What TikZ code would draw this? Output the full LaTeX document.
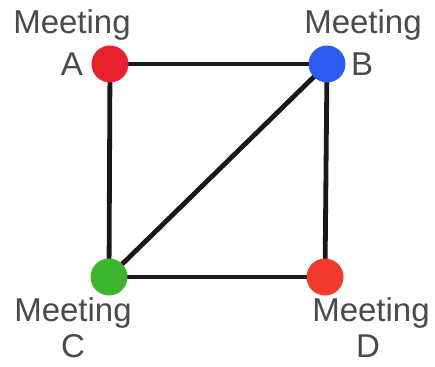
\documentclass[tikz,border=0pt]{standalone}
\usepackage{fontspec}
\setmainfont{Liberation Sans}
\definecolor{cred}{HTML}{E8212E}
\definecolor{cblue}{HTML}{2E5CF0}
\definecolor{cgreen}{HTML}{3DB52C}
\definecolor{cred2}{HTML}{F03A2C}
\definecolor{ctext}{HTML}{4A4A4A}
\begin{document}
\begin{tikzpicture}[x=1pt,y=-1pt,
  vert/.style={circle,minimum size=37pt,inner sep=0pt},
  lbl/.style={text=ctext,font=\fontsize{33}{33}\selectfont,inner sep=0pt},
  edge/.style={line width=4.8pt,black!90}]
\useasboundingbox (0,0) rectangle (435,366);
\coordinate (pA) at (110,64);
\coordinate (pB) at (327,64);
\coordinate (pC) at (109,277);
\coordinate (pD) at (325,277);
\draw[edge] (pA) -- (pB);
\draw[edge] (pA) -- (pC);
\draw[edge] (pB) -- (pD);
\draw[edge] (pC) -- (pD);
\draw[edge] (pC) -- (pB);
\node[vert,fill=cred] (A) at (pA) {};
\node[vert,fill=cblue] (B) at (pB) {};
\node[vert,fill=cgreen] (C) at (pC) {};
\node[vert,fill=cred2] (D) at (pD) {};
\node[lbl] (mA) at (72,25) {Meeting};
\node[lbl] (lA) at (72,64) {A};
\node[lbl] (mB) at (363,25) {Meeting};
\node[lbl] (lB) at (362,64) {B};
\node[lbl] (mC) at (73,313) {Meeting};
\node[lbl] (lC) at (73,346) {C};
\node[lbl] (mD) at (371,313) {Meeting};
\node[lbl] (lD) at (368,346) {D};
\end{tikzpicture}
\end{document}
